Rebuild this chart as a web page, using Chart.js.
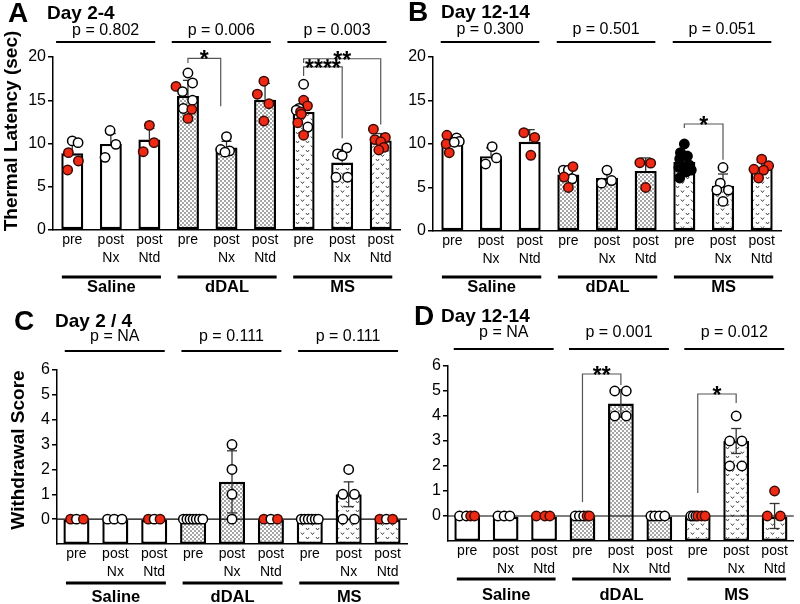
<!DOCTYPE html>
<html>
<head>
<meta charset="utf-8">
<script src="https://cdn.jsdelivr.net/npm/chart.js@4.4.0/dist/chart.umd.min.js"></script>
<style>
  html, body { margin: 0; padding: 0; background: #fff; }
  #wrap { position: relative; width: 800px; height: 604px; }
  #wrap canvas { position: absolute; left: 0; top: 0; }
</style>
</head>
<body>
<div id="wrap">
  <canvas id="cA" width="800" height="604"></canvas>
  <canvas id="cB" width="800" height="604"></canvas>
  <canvas id="cC" width="800" height="604"></canvas>
  <canvas id="cD" width="800" height="604"></canvas>
</div>
<script>
const FONT = "'Liberation Sans', Arial, sans-serif";
const RED = '#ee2a15';

// Shared categories
const conditionLabels = [['pre'], ['post', 'Nx'], ['post', 'Ntd'],
                         ['pre'], ['post', 'Nx'], ['post', 'Ntd'],
                         ['pre'], ['post', 'Nx'], ['post', 'Ntd']];
const groups = ['Saline', 'dDAL', 'MS'];
const latencyTicks = [0, 5, 10, 15, 20];
const scoreTicks = [0, 1, 2, 3, 4, 5, 6];

// Points: [jitter, value, kind]  kind: o = open, r = red, k = black

// A - Day 2-4 thermal latency
const pA = ['p = 0.802', 'p = 0.006', 'p = 0.003'];
const meanA = [8.87, 9.95, 10.45, 15.5, 9.55, 15.05, 13.65, 7.8, 10.35];
const errA = [1.3, 1.2, 1.3, 1.8, 0.7, 1.9, 1.6, 1.5, 0.8];
const ptsA = [
  [[-0.1, 8.94, 'r'], [-0.12, 6.94, 'r'], [0.16, 7.98, 'r'], [0, 10.3, 'o'], [0.15, 10.1, 'o']],
  [[-0.02, 11.5, 'o'], [-0.15, 8.4, 'o'], [0.13, 9.9, 'o']],
  [[0, 12.1, 'r'], [-0.16, 9.05, 'r'], [0.12, 10.1, 'r']],
  [[0, 18.15, 'o'], [-0.31, 16.6, 'r'], [0.12, 17.0, 'o'], [-0.14, 16.0, 'o'], [0.12, 15.0, 'o'],
   [-0.12, 14.05, 'o'], [0.1, 13.95, 'r'], [0, 12.9, 'r']],
  [[0, 10.8, 'o'], [-0.15, 9.3, 'o'], [0.08, 9.15, 'o'], [-0.04, 9.0, 'o']],
  [[-0.03, 17.2, 'r'], [-0.2, 15.7, 'r'], [0.1, 14.6, 'r'], [-0.03, 12.6, 'r']],
  [[0, 16.85, 'o'], [0, 15.0, 'r'], [0.1, 14.35, 'r'], [-0.12, 14.05, 'o'], [-0.19, 13.85, 'o'],
   [-0.08, 13.65, 'r'], [-0.06, 13.4, 'r'], [-0.15, 12.4, 'r'], [0.11, 11.9, 'o'], [0, 10.96, 'r']],
  [[0.12, 9.5, 'o'], [-0.12, 8.8, 'o'], [0, 8.6, 'o'], [-0.16, 6.1, 'o'], [0.14, 6.1, 'o']],
  [[-0.19, 11.65, 'r'], [-0.15, 10.45, 'r'], [0.12, 10.7, 'r'], [0, 10.2, 'r'], [0.08, 9.55, 'r'], [-0.05, 9.25, 'r']]
];
// [from, to, level, fromEnd, toEnd, label]
const bracketsA = [[3, 3.85, 19.85, 19.3, 14.3, '*'], [6, 7, 18.85, 17.8, 10.6, '****'], [6, 8, 19.8, 19.3, 12.2, '**']];

// B - Day 12-14 thermal latency
const pB = ['p = 0.300', 'p = 0.501', 'p = 0.051'];
const meanB = [10.2, 8.6, 10.25, 6.5, 6.1, 6.9, 7.95, 5.2, 7.2];
const errB = [0.6, 0.95, 1.4, 0.9, 0.75, 1.5, 1.2, 1.35, 0.7];
const ptsB = [
  [[-0.14, 11.0, 'r'], [-0.16, 10.0, 'r'], [-0.08, 9.0, 'r'], [0.11, 10.7, 'o'], [0.18, 10.3, 'o'], [0.05, 10.2, 'o']],
  [[0.03, 9.7, 'o'], [-0.14, 7.7, 'o'], [0.14, 8.4, 'o']],
  [[-0.15, 11.3, 'r'], [0.13, 10.75, 'r'], [0.03, 8.7, 'r']],
  [[-0.13, 7.0, 'o'], [0, 7.0, 'o'], [0.1, 6.0, 'o'], [0.12, 7.4, 'r'], [-0.11, 6.2, 'r'], [0, 5.0, 'r']],
  [[0, 7.0, 'o'], [-0.14, 5.5, 'o'], [0.12, 5.8, 'o']],
  [[-0.15, 7.85, 'r'], [0.13, 7.8, 'r'], [0, 5.0, 'r']],
  [[0, 10.0, 'k'], [-0.1, 9.0, 'k'], [0.08, 8.6, 'k'], [-0.12, 8.3, 'k'], [0.12, 7.6, 'k'],
   [-0.14, 7.3, 'k'], [0, 7.1, 'k'], [0.18, 7.0, 'k'], [-0.12, 6.1, 'k'], [0.05, 6.8, 'k']],
  [[0, 7.3, 'o'], [-0.07, 5.5, 'o'], [0.14, 4.7, 'o'], [-0.16, 4.7, 'o'], [0, 3.4, 'o']],
  [[0, 8.25, 'r'], [0.18, 7.5, 'r'], [-0.2, 7.1, 'r'], [0.05, 7.0, 'r'], [-0.08, 6.1, 'r']]
];
const bracketsB = [[6, 7, 12.3, 11.85, 8.2, '*']];

// C - Day 2 / 4 withdrawal score
const pC = ['p = NA', 'p = 0.111', 'p = 0.111'];
const meanC = [0, 0, 0, 0, 1.5, 0, 0, 1.0, 0];
const errC = [0, 0, 0, 0, 1.25, 0, 0, 0.5, 0];
const ptsC = [
  [[-0.15, 0, 'r'], [0, 0, 'o'], [0.18, 0, 'r']],
  [[-0.2, 0, 'o'], [-0.03, 0, 'o'], [0.17, 0, 'o']],
  [[-0.15, 0, 'r'], [0, 0, 'o'], [0.15, 0, 'r']],
  [[-0.25, 0, 'o'], [-0.16, 0, 'o'], [-0.08, 0, 'o'], [0, 0, 'o'], [0.08, 0, 'o'], [0.16, 0, 'o'], [0.25, 0, 'o']],
  [[0, 3, 'o'], [0, 2, 'o'], [0, 1, 'o'], [0, 0, 'o']],
  [[-0.18, 0, 'r'], [0, 0, 'o'], [0.17, 0, 'r']],
  [[-0.22, 0, 'o'], [-0.13, 0, 'o'], [-0.04, 0, 'o'], [0.05, 0, 'o'], [0.14, 0, 'o'], [0.22, 0, 'o']],
  [[0, 2, 'o'], [-0.15, 1, 'o'], [0.15, 1, 'o'], [-0.15, 0, 'o'], [0.15, 0, 'o']],
  [[-0.2, 0, 'r'], [-0.03, 0, 'o'], [0.13, 0, 'r']]
];
const bracketsC = [];

// D - Day 12-14 withdrawal score
const pD = ['p = NA', 'p = 0.001', 'p = 0.012'];
const meanD = [0, 0, 0, 0, 4.5, 0, 0, 3.0, 0];
const errD = [0, 0, 0, 0, 0.55, 0, 0, 0.5, 0.5];
const ptsD = [
  [[-0.2, 0, 'o'], [-0.02, 0, 'o'], [0.09, 0, 'r'], [0.19, 0, 'r']],
  [[-0.2, 0, 'o'], [-0.04, 0, 'o'], [0.11, 0, 'o']],
  [[-0.2, 0, 'r'], [0.02, 0, 'r'], [0.15, 0, 'r']],
  [[-0.19, 0, 'o'], [-0.08, 0, 'o'], [0.03, 0, 'o'], [0.12, 0, 'r'], [0.18, 0, 'r']],
  [[-0.16, 5, 'o'], [0.14, 5, 'o'], [-0.16, 4, 'o'], [0.14, 4, 'o']],
  [[-0.22, 0, 'o'], [-0.12, 0, 'o'], [0, 0, 'o'], [0.14, 0, 'o']],
  [[-0.18, 0, 'o'], [-0.12, 0, 'o'], [-0.05, 0, 'o'], [0, 0, 'r'], [0.1, 0, 'r'], [0.19, 0, 'r']],
  [[0, 4, 'o'], [-0.17, 3, 'o'], [0.15, 3, 'o'], [-0.17, 2, 'o'], [0.15, 2, 'o']],
  [[0, 1, 'r'], [-0.19, 0, 'r'], [0.15, 0, 'r']]
];
const bracketsD = [[3, 4, 5.68, 0.56, 5.24, '**'], [6, 7, 4.88, 0.92, 4.52, '*']];

// Fill patterns
function makePattern(w, h, draw) {
  const c = document.createElement('canvas');
  c.width = w; c.height = h;
  const g = c.getContext('2d');
  g.fillStyle = '#fff';
  g.fillRect(0, 0, w, h);
  draw(g);
  return g.createPattern(c, 'repeat');
}
const patDDAL = makePattern(4, 4, g => {
  g.fillStyle = '#a6a6a6';
  g.fillRect(0, 0, 2, 2);
  g.fillRect(2, 2, 2, 2);
});
const patMS = makePattern(10, 9, g => {
  g.strokeStyle = '#444';
  g.lineWidth = 1;
  [[2.5, 2.5], [7.5, 7]].forEach(([x, y]) => {
    g.beginPath();
    g.moveTo(x - 1.6, y - 1);
    g.lineTo(x, y + 1);
    g.lineTo(x + 1.6, y - 1);
    g.stroke();
  });
});

function hline(ctx, a, b, y) { ctx.beginPath(); ctx.moveTo(a, y); ctx.lineTo(b, y); ctx.stroke(); }
function vline(ctx, x, a, b) { ctx.beginPath(); ctx.moveTo(x, a); ctx.lineTo(x, b); ctx.stroke(); }

function deco(s) {
  return {
    id: 'deco' + s.letter,
    afterDatasetDraw(chart, args) {
      if (args.index !== 1) return;
      const ctx = chart.ctx, x = chart.scales.x, y = chart.scales.y, area = chart.chartArea;
      ctx.save();
      if (s.yMin < 0) {
        ctx.strokeStyle = '#000';
        ctx.lineWidth = 1.2;
        hline(ctx, area.left, area.right, y.getPixelForValue(0));
      }
      ctx.strokeStyle = '#333';
      ctx.lineWidth = 1.3;
      s.means.forEach((m, i) => {
        const e = s.errs[i];
        if (!e) return;
        const px = x.getPixelForValue(i);
        const top = y.getPixelForValue(m + e);
        const both = s.errBoth && m - e > s.yMin;
        const bot = both ? y.getPixelForValue(m - e) : y.getPixelForValue(m);
        vline(ctx, px, top, bot);
        hline(ctx, px - 5, px + 5, top);
        if (both) hline(ctx, px - 5, px + 5, bot);
      });
      ctx.restore();
    },
    afterDatasetsDraw(chart) {
      const ctx = chart.ctx, xs = chart.scales.xs, y = chart.scales.y;
      ctx.save();
      s.brackets.forEach(([a, b, lvl, ea, eb, lab]) => {
        const xa = xs.getPixelForValue(a), xb = xs.getPixelForValue(b), yl = y.getPixelForValue(lvl);
        ctx.strokeStyle = '#555';
        ctx.lineWidth = 1.2;
        ctx.beginPath();
        ctx.moveTo(xa, y.getPixelForValue(ea));
        ctx.lineTo(xa, yl);
        ctx.lineTo(xb, yl);
        ctx.lineTo(xb, y.getPixelForValue(eb));
        ctx.stroke();
        ctx.fillStyle = '#000';
        ctx.font = `bold 23px ${FONT}`;
        ctx.textAlign = 'center';
        ctx.textBaseline = 'alphabetic';
        ctx.fillText(lab, (xa + xb) / 2, yl + 9);
      });
      ctx.restore();
    },
    afterDraw(chart) {
      const ctx = chart.ctx, xs = chart.scales.xs;
      ctx.save();
      ctx.fillStyle = '#000';
      ctx.strokeStyle = '#000';
      ctx.textBaseline = 'middle';
      ctx.textAlign = 'left';
      ctx.font = `bold 28px ${FONT}`;
      ctx.fillText(s.letter, s.titlePos[0], s.titlePos[2]);
      ctx.font = `bold 19px ${FONT}`;
      ctx.fillText(s.day, s.titlePos[1], s.titlePos[2]);
      ctx.textAlign = 'center';
      groups.forEach((g, k) => {
        const a = xs.getPixelForValue(3 * k + s.pExt[0]);
        const b = xs.getPixelForValue(3 * k + 2 + s.pExt[1]);
        ctx.lineWidth = 2;
        hline(ctx, a, b, s.pLineY);
        ctx.font = `16px ${FONT}`;
        ctx.fillText(s.pvals[k], (a + b) / 2, s.pLabelY);
        const c = xs.getPixelForValue(3 * k - 0.27);
        const d = xs.getPixelForValue(3 * k + 2.3);
        ctx.lineWidth = 3;
        hline(ctx, c, d, s.gLineY);
        ctx.font = `bold 16.5px ${FONT}`;
        ctx.fillText(g, (c + d) / 2, s.gLabelY);
      });
      if (s.yTitle) {
        ctx.translate(s.yTitlePos[0], s.yTitlePos[1]);
        ctx.rotate(-Math.PI / 2);
        ctx.font = `bold 19px ${FONT}`;
        ctx.fillText(s.yTitle, 0, 0);
      }
      ctx.restore();
    }
  };
}

function buildChart(id, s) {
  const [L, R, T, B] = s.area;
  const yW = 40, xH = 40;
  const barData = s.means.map(m => s.yMin < 0 ? [s.yMin, m] : m);
  const fills = s.means.map((m, i) => i < 3 ? '#fff' : i < 6 ? patDDAL : patMS);
  const pts = [], fillCols = [], lineCols = [];
  s.points.forEach((list, i) => list.forEach(([dx, v, k]) => {
    pts.push({ x: i + dx, y: v });
    fillCols.push(k === 'r' ? RED : k === 'k' ? '#000' : '#fff');
    lineCols.push(k === 'r' ? '#3a0a05' : '#000');
  }));
  return new Chart(document.getElementById(id), {
    type: 'bar',
    data: {
      labels: conditionLabels,
      datasets: [
        {
          type: 'scatter', xAxisID: 'xs', data: pts, order: 1,
          pointRadius: 4.7, pointBorderWidth: 1.5,
          pointBackgroundColor: fillCols, pointBorderColor: lineCols
        },
        {
          type: 'bar', xAxisID: 'x', data: barData, order: 2, grouped: false,
          backgroundColor: fills, borderColor: '#000', borderWidth: 2.4, borderSkipped: false,
          barPercentage: s.barPct, categoryPercentage: 1
        }
      ]
    },
    options: {
      responsive: false,
      animation: false,
      devicePixelRatio: 1,
      layout: { padding: { left: L - yW, right: 800 - R, top: T, bottom: 604 - B - xH } },
      plugins: { legend: { display: false }, tooltip: { enabled: false } },
      scales: {
        x: {
          type: 'category', offset: true, weight: 1,
          grid: { display: false, drawTicks: false },
          border: { display: true, color: '#000', width: 1.5 },
          ticks: { color: '#000', font: { family: FONT, size: 14, lineHeight: 1.3 }, padding: 1, maxRotation: 0, autoSkip: false },
          afterFit: sc => { sc.height = xH; }
        },
        xs: {
          type: 'linear', position: 'bottom', weight: 10, min: -0.5, max: 8.5, offset: false,
          ticks: { display: false },
          grid: { display: false, drawTicks: false, offset: false },
          border: { display: false },
          afterFit: sc => { sc.height = 0; }
        },
        y: {
          min: s.yMin, max: s.yMax,
          afterBuildTicks: sc => { sc.ticks = s.ticks.map(v => ({ value: v })); },
          grid: { drawOnChartArea: false, drawTicks: true, tickLength: 5, color: '#000', lineWidth: 1.5 },
          border: { display: true, color: '#000', width: 1.5 },
          ticks: { color: '#000', font: { family: FONT, size: 16 }, padding: 2 },
          afterFit: sc => { sc.width = yW; }
        }
      }
    },
    plugins: [deco(s)]
  });
}

buildChart('cA', {
  letter: 'A', day: 'Day 2-4', titlePos: [8, 47, 14],
  area: [53, 400, 57, 230], yMin: 0, yMax: 20, ticks: latencyTicks, barPct: 0.57,
  means: meanA, errs: errA, errBoth: false, points: ptsA, brackets: bracketsA,
  pvals: pA, pLabelY: 31, pLineY: 42, pExt: [-0.42, 0.15],
  gLineY: 277, gLabelY: 287,
  yTitle: 'Thermal Latency (sec)', yTitlePos: [12, 131]
});
buildChart('cB', {
  letter: 'B', day: 'Day 12-14', titlePos: [408, 441, 13],
  area: [433, 781, 57, 231], yMin: 0, yMax: 20, ticks: latencyTicks, barPct: 0.57,
  means: meanB, errs: errB, errBoth: false, points: ptsB, brackets: bracketsB,
  pvals: pB, pLabelY: 30, pLineY: 42, pExt: [-0.3, 0.25],
  gLineY: 277, gLabelY: 287
});
buildChart('cC', {
  letter: 'C', day: 'Day 2 / 4', titlePos: [14, 55, 322],
  area: [57, 407, 370, 544], yMin: -1, yMax: 6, ticks: scoreTicks, barPct: 0.67,
  means: meanC, errs: errC, errBoth: true, points: ptsC, brackets: bracketsC,
  pvals: pC, pLabelY: 337, pLineY: 351, pExt: [-0.3, 0.27],
  gLineY: 583, gLabelY: 597,
  yTitle: 'Withdrawal Score', yTitlePos: [19, 450]
});
buildChart('cD', {
  letter: 'D', day: 'Day 12-14', titlePos: [414, 441, 317],
  area: [448, 800, 366, 541], yMin: -1, yMax: 6, ticks: scoreTicks, barPct: 0.67,
  means: meanD, errs: errD, errBoth: true, points: ptsD, brackets: bracketsD,
  pvals: pD, pLabelY: 333, pLineY: 349, pExt: [-0.35, 0.25],
  gLineY: 579, gLabelY: 595
});
</script>
</body>
</html>
